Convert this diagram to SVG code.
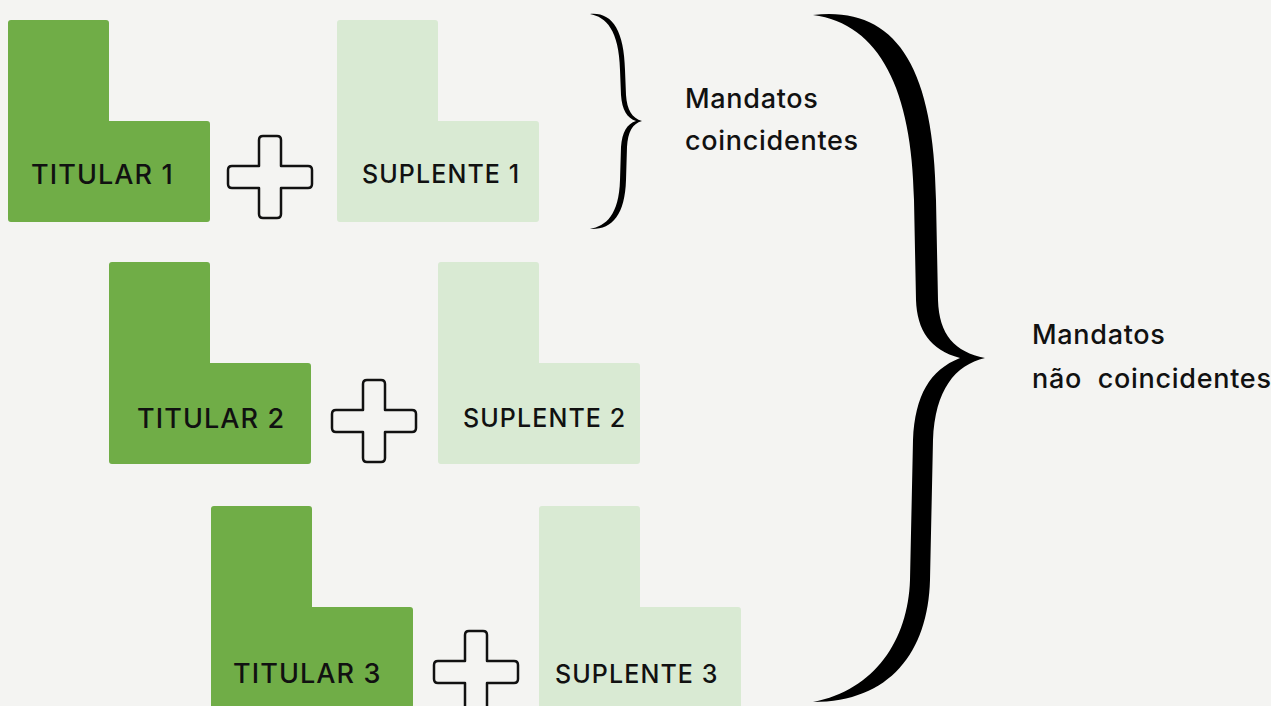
<svg xmlns="http://www.w3.org/2000/svg" xmlns:xlink="http://www.w3.org/1999/xlink" width="1271" height="706" viewBox="0 0 1271 706">
<style>
  .tit { fill: #70AD47; }
  .sup { fill: #D9EAD3; }
  .lbl { font-family: Inter, "Open Sans", "Liberation Sans", sans-serif; font-weight: 500; fill: #111; }
  .tl { font-size: 27px; letter-spacing: 1.1px; }
  .sl { font-size: 25px; letter-spacing: 1.1px; }
  .note { font-family: Inter, "Open Sans", "Liberation Sans", sans-serif; font-weight: 500; font-size: 27px; letter-spacing: 0.7px; fill: #111; white-space: pre; }
  .plus { fill: none; stroke: #111; stroke-width: 2.5; stroke-linejoin: round; }
  .brace { fill: #000; }
</style>
<defs>
  <path id="L" d="M 3,0 L 98,0 Q 101,0 101,3 L 101,101 L 199,101 Q 202,101 202,104 L 202,199 Q 202,202 199,202 L 3,202 Q 0,202 0,199 L 0,3 Q 0,0 3,0 Z"/>
  <path id="plus" d="M -7,-41 L 7,-41 Q 11,-41 11,-37 L 11,-11 L 38,-11 Q 42,-11 42,-7 L 42,7 Q 42,11 38,11 L 11,11 L 11,37 Q 11,41 7,41 L -7,41 Q -11,41 -11,37 L -11,11 L -38,11 Q -42,11 -42,7 L -42,-7 Q -42,-11 -38,-11 L -11,-11 L -11,-37 Q -11,-41 -7,-41 Z"/>
</defs>
<rect width="1271" height="706" fill="#F4F4F2"/>

<g id="titular1">
  <use xlink:href="#L" href="#L" class="tit" transform="translate(8,20)"/>
  <text class="lbl tl" x="31" y="184">TITULAR 1</text>
</g>
<g id="suplente1">
  <use xlink:href="#L" href="#L" class="sup" transform="translate(337,20)"/>
  <text class="lbl sl" x="362" y="183">SUPLENTE 1</text>
</g>
<g id="titular2">
  <use xlink:href="#L" href="#L" class="tit" transform="translate(109,262)"/>
  <text class="lbl tl" x="137" y="428">TITULAR 2</text>
</g>
<g id="suplente2">
  <use xlink:href="#L" href="#L" class="sup" transform="translate(438,262)"/>
  <text class="lbl sl" x="463" y="427">SUPLENTE 2</text>
</g>
<g id="titular3">
  <use xlink:href="#L" href="#L" class="tit" transform="translate(211,506)"/>
  <text class="lbl tl" x="233" y="683">TITULAR 3</text>
</g>
<g id="suplente3">
  <use xlink:href="#L" href="#L" class="sup" transform="translate(539,506)"/>
  <text class="lbl sl" x="555" y="683">SUPLENTE 3</text>
</g>

<g id="plus1"><use xlink:href="#plus" href="#plus" class="plus" transform="translate(270,177)"/></g>
<g id="plus2"><use xlink:href="#plus" href="#plus" class="plus" transform="translate(374,421)"/></g>
<g id="plus3"><use xlink:href="#plus" href="#plus" class="plus" transform="translate(476,672)"/></g>

<g id="connectors">
  <path class="brace" d="M 590,14 C 612,12 624,30 625,70 L 626,95 C 627,110 632,118 642,121 C 632,124 628,132 627,147 L 626,180 C 625,215 612,230 590,229 C 606,226 619,215 620,180 L 621,147 C 622,132 627,124 636,121 C 627,118 622,110 621,95 L 620,70 C 619,30 606,17 590,14 Z"/>
  <path class="brace" d="M 813,15 C 892,6 934,60 936,200 L 938,300 C 939,335 955,352 985,358 C 955,365 935,390 933,440 L 930,580 C 928,652 890,702 813,702 C 875,690 908,640 910,580 L 913,440 C 915,395 930,370 960,358 C 930,350 917,330 916,300 L 914,200 C 912,90 880,24 813,15 Z"/>
</g>

<g id="label-coincidentes">
  <text class="note" x="685" y="108">Mandatos</text>
  <text class="note" x="685" y="150">coincidentes</text>
</g>
<g id="label-nao-coincidentes">
  <text class="note" x="1032" y="344">Mandatos</text>
  <text class="note" x="1032" y="388">não  coincidentes</text>
</g>
</svg>
